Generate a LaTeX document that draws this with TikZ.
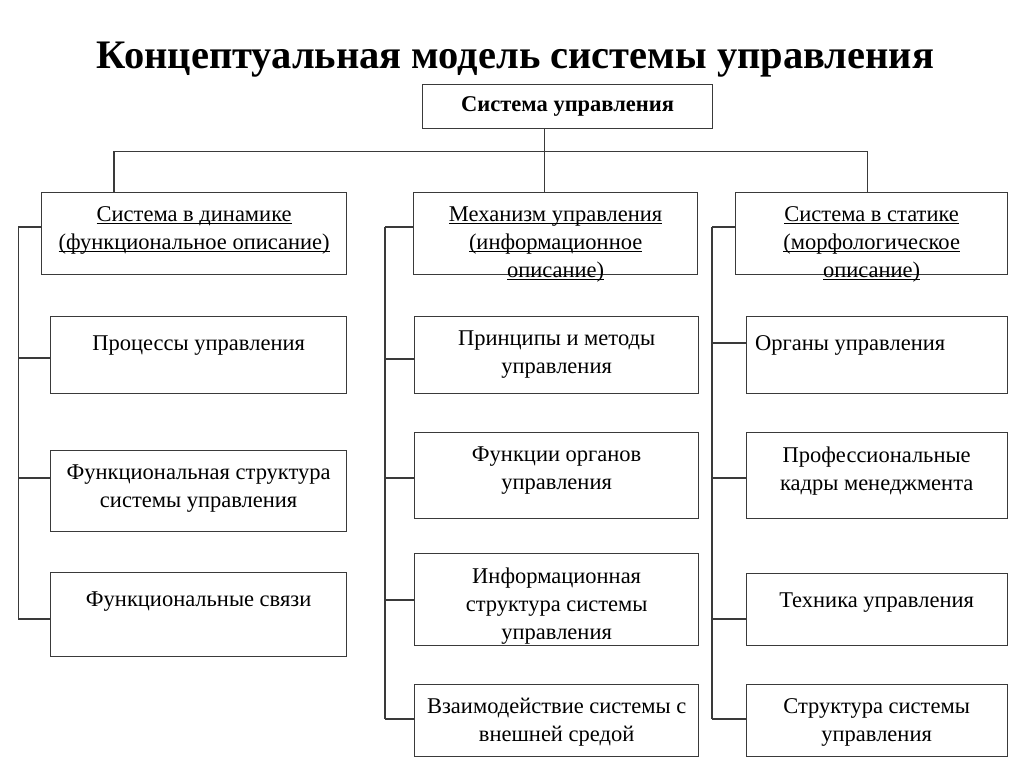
\documentclass[tikz,border=0pt]{standalone}
\usepackage{fontspec}
\setmainfont{Liberation Serif}
\usetikzlibrary{positioning}
\definecolor{linegray}{HTML}{3A3A3A}
\newcommand\ulx[1]{\setbox0\hbox{#1}\leavevmode\rlap{\rule[-3pt]{\wd0}{0.9pt}}\box0}
\begin{document}
\begin{tikzpicture}[x=1pt,y=-1pt,
  box/.style={draw=linegray, line width=1.3pt, inner sep=0pt, anchor=north west},
  txt/.style={font=\fontsize{22.5}{28}\selectfont, align=center, inner sep=0pt, anchor=north, execute at begin node=\strut},
  conn/.style={draw=linegray, line width=1.3pt}]
\useasboundingbox (0,0) rectangle (1024,767);

% title
\node[font=\bfseries\fontsize{40.5}{44}\selectfont, inner sep=0pt] (title) at (515.5,60) {Концептуальная модель системы управления};

% top box
\node[box, minimum width=290pt, minimum height=44pt, font=\bfseries\fontsize{22.5}{26}\selectfont] (top) at (422,84) {Система управления};

% column 1
\node[box, minimum width=305pt, minimum height=82pt] (c1h) at (41,192) {};
\node[box, minimum width=296pt, minimum height=77pt] (c1a) at (50,316) {};
\node[box, minimum width=296pt, minimum height=81pt] (c1b) at (50,450) {};
\node[box, minimum width=296pt, minimum height=84pt] (c1c) at (50,572) {};

% column 2
\node[box, minimum width=284pt, minimum height=82pt] (c2h) at (413,192) {};
\node[box, minimum width=284pt, minimum height=77pt] (c2a) at (414,316) {};
\node[box, minimum width=284pt, minimum height=86pt] (c2b) at (414,432) {};
\node[box, minimum width=284pt, minimum height=92pt] (c2c) at (414,553) {};
\node[box, minimum width=284pt, minimum height=72pt] (c2d) at (414,684) {};

% column 3
\node[box, minimum width=272pt, minimum height=82pt] (c3h) at (735,192) {};
\node[box, minimum width=261pt, minimum height=77pt] (c3a) at (746,316) {};
\node[box, minimum width=261pt, minimum height=86pt] (c3b) at (745.5,432) {};
\node[box, minimum width=261pt, minimum height=72pt] (c3c) at (745.5,573) {};
\node[box, minimum width=261pt, minimum height=72pt] (c3d) at (745.5,684) {};

% texts
\node[txt, below=14.3pt of c1h.north] (t1h) {\ulx{Система в динамике}\\\ulx{(функциональное описание)}};
\node[txt, below=14.3pt of c1a.north] (t1a) {Процессы управления};
\node[txt, below=14.3pt of c1b.north] (t1b) {Функциональная структура\\системы управления};
\node[txt, below=14.3pt of c1c.north] (t1c) {Функциональные связи};

\node[txt, below=14.3pt of c2h.north] (t2h) {\ulx{Механизм управления}\\\ulx{(информационное}\\\ulx{описание)}};
\node[txt, below=14.3pt of c2a.north] (t2a) {Принципы и методы\\управления};
\node[txt, below=14.3pt of c2b.north] (t2b) {Функции органов\\управления};
\node[txt, below=14.3pt of c2c.north] (t2c) {Информационная\\структура системы\\управления};
\node[txt, below=14.3pt of c2d.north] (t2d) {Взаимодействие системы с\\внешней средой};

\node[txt, below=14.3pt of c3h.north] (t3h) {\ulx{Система в статике}\\\ulx{(морфологическое}\\\ulx{описание)}};
\node[txt, anchor=north west, below right=14.3pt and 9pt of c3a.north west] (t3a) {Органы управления};
\node[txt, below=14.3pt of c3b.north] (t3b) {Профессиональные\\кадры менеджмента};
\node[txt, below=14.3pt of c3c.north] (t3c) {Техника управления};
\node[txt, below=14.3pt of c3d.north] (t3d) {Структура системы\\управления};

% top connectors
\coordinate (stem) at (544.7,151.3);
\coordinate (busL) at (114,151.3);
\coordinate (busR) at (867.7,151.3);
\draw[conn] (top.south -| stem) -- (stem |- c2h.north);
\draw[conn] (busL |- c1h.north) -- (busL) -- (busR) -- (busR |- c3h.north);

% column brackets
\coordinate (L1) at (18.3,0);
\coordinate (L2) at (385,0);
\coordinate (L3) at (712,0);
\draw[conn] (L1 |- 0,227) -- (L1 |- 0,619);
\foreach \n/\y in {c1h/227, c1a/358, c1b/478, c1c/619}
  \draw[conn] (\n.west |- 0,\y) -- (L1 |- 0,\y);
\draw[conn] (L2 |- 0,227) -- (L2 |- 0,719);
\foreach \n/\y in {c2h/227, c2a/359, c2b/478, c2c/600, c2d/719}
  \draw[conn] (\n.west |- 0,\y) -- (L2 |- 0,\y);
\draw[conn] (L3 |- 0,227) -- (L3 |- 0,719);
\foreach \n/\y in {c3h/227, c3a/343, c3b/478, c3c/619, c3d/719}
  \draw[conn] (\n.west |- 0,\y) -- (L3 |- 0,\y);
\end{tikzpicture}
\end{document}
